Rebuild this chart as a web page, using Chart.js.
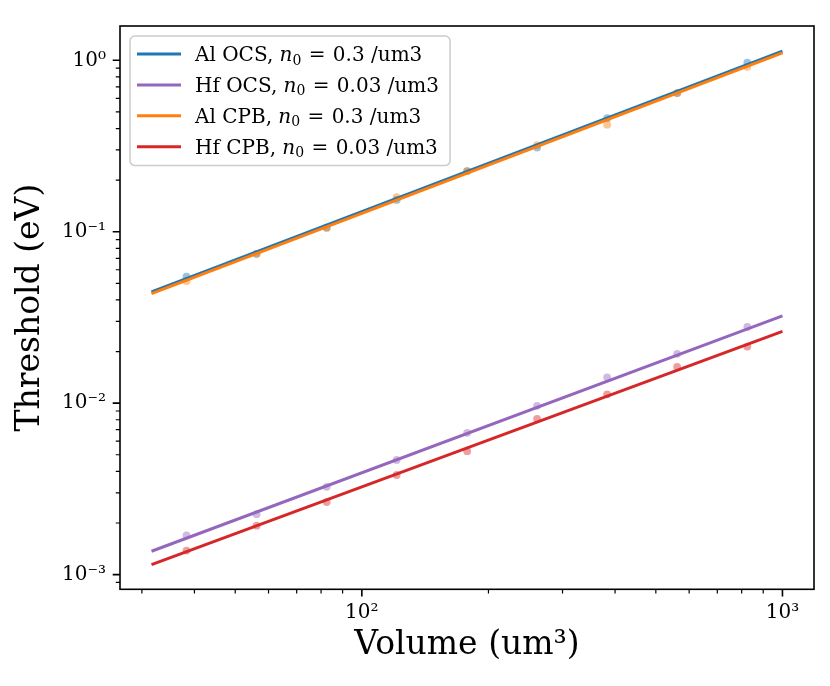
<!DOCTYPE html>
<html>
<head>
<meta charset="utf-8">
<script src="https://cdn.jsdelivr.net/npm/chart.js@4.4.0/dist/chart.umd.min.js"></script>
<style>
  body { margin: 0; background: #fff; }
  #wrap { width: 830px; height: 686px; }
</style>
</head>
<body>
<div id="wrap"><canvas id="chart" width="830" height="686"></canvas></div>
<script>
var volumes = [38.3, 56.2, 82.5, 121, 178, 261, 383, 562, 825];
var alOcs = [0.0547, 0.0743, 0.1056, 0.1533, 0.226, 0.310, 0.460, 0.644, 0.969];
var hfOcs = [0.00169, 0.00225, 0.00325, 0.00466, 0.00671, 0.00965, 0.01414, 0.0194, 0.02783];
var alCpb = [0.0516, 0.0743, 0.1056, 0.1589, 0.226, 0.320, 0.421, 0.644, 0.916];
var hfCpb = [0.00138, 0.00193, 0.00265, 0.00381, 0.00525, 0.00810, 0.01126, 0.01628, 0.02138];

// fitted power laws, evaluated at the ends of the fit range
var fitVolumes = [31.62, 1000];
var alOcsFit = [0.0445, 1.13];
var hfOcsFit = [0.001368, 0.0323];
var alCpbFit = [0.0435, 1.105];
var hfCpbFit = [0.001143, 0.02625];

var seriesNames = ['Al OCS', 'Hf OCS', 'Al CPB', 'Hf CPB'];
var densities = ['0.3', '0.03', '0.3', '0.03'];
var colors = ['#1f77b4', '#9467bd', '#ff7f0e', '#d62728'];

var xTickValues = [100, 1000];
var xTickLabels = ['10\u00b2', '10\u00b3'];
var yTickValues = [0.001, 0.01, 0.1, 1];
var yTickLabels = ['10\u207b\u00b3', '10\u207b\u00b2', '10\u207b\u00b9', '10\u2070'];

var SERIF = '"DejaVu Serif", "Liberation Serif", serif';

function rgba(hex, a) {
    var n = parseInt(hex.slice(1), 16);
    return 'rgba(' + (n >> 16) + ',' + ((n >> 8) & 255) + ',' + (n & 255) + ',' + a + ')';
}

function toPoints(xs, ys) {
    var pts = [];
    for (var i = 0; i < xs.length; i++) pts.push({ x: xs[i], y: ys[i] });
    return pts;
}

var measured = [alOcs, hfOcs, alCpb, hfCpb];
var fits = [alOcsFit, hfOcsFit, alCpbFit, hfCpbFit];

var datasets = [];
for (var k = 0; k < 4; k++) {
    datasets.push({
        type: 'line',
        label: seriesNames[k],
        data: toPoints(fitVolumes, fits[k]),
        borderColor: colors[k],
        borderWidth: 3,
        pointRadius: 0,
        fill: false,
        order: 4 - k
    });
}
for (var k = 0; k < 4; k++) {
    datasets.push({
        type: 'scatter',
        label: seriesNames[k] + ' data',
        data: toPoints(volumes, measured[k]),
        backgroundColor: rgba(colors[k], 0.45),
        borderWidth: 0,
        pointRadius: 3.9,
        order: 10 - k
    });
}

function minorValues(scale, loExp, hiExp, majors) {
    var out = [];
    for (var e = loExp; e <= hiExp; e++) {
        for (var m = 2; m <= 9; m++) {
            var v = m * Math.pow(10, e);
            if (v > scale.min && v < scale.max && majors.indexOf(v) < 0) out.push(v);
        }
    }
    return out;
}

function drawLabel(ctx, i, x, baseline, fs, draw) {
    var parts = [
        { t: seriesNames[i] + ', ', f: fs + 'px ' + SERIF, dy: 0 },
        { t: 'n', f: 'italic ' + fs + 'px ' + SERIF, dy: 0 },
        { t: '0', f: Math.round(fs * 0.7) + 'px ' + SERIF, dy: 3.5 },
        { t: ' = ', f: fs + 'px ' + SERIF, dy: 0, extra: 2 },
        { t: densities[i] + ' /um3', f: fs + 'px ' + SERIF, dy: 0 }
    ];
    var cx = x;
    ctx.textBaseline = 'alphabetic';
    ctx.textAlign = 'left';
    ctx.fillStyle = '#000';
    for (var p = 0; p < parts.length; p++) {
        ctx.font = parts[p].f;
        if (parts[p].extra) cx += parts[p].extra / 2;
        if (draw) ctx.fillText(parts[p].t, cx, baseline + parts[p].dy);
        cx += ctx.measureText(parts[p].t).width;
        if (parts[p].extra) cx += parts[p].extra / 2;
    }
    return cx - x;
}

// spines, outward ticks and the legend box
var framePlugin = {
    id: 'framePlugin',
    afterDraw: function(chart) {
        var ctx = chart.ctx;
        var a = chart.chartArea;
        var xs = chart.scales.x;
        var ys = chart.scales.y;
        ctx.save();
        ctx.strokeStyle = '#000';

        ctx.lineWidth = 1.2;
        ctx.beginPath();
        minorValues(xs, 1, 3, xTickValues).forEach(function(v) {
            var px = xs.getPixelForValue(v);
            ctx.moveTo(px, a.bottom); ctx.lineTo(px, a.bottom + 4.2);
        });
        minorValues(ys, -4, 0, yTickValues).forEach(function(v) {
            var py = ys.getPixelForValue(v);
            ctx.moveTo(a.left, py); ctx.lineTo(a.left - 4.2, py);
        });
        ctx.stroke();

        ctx.lineWidth = 1.6;
        ctx.beginPath();
        xTickValues.forEach(function(v) {
            var px = xs.getPixelForValue(v);
            ctx.moveTo(px, a.bottom); ctx.lineTo(px, a.bottom + 7.3);
        });
        yTickValues.forEach(function(v) {
            var py = ys.getPixelForValue(v);
            ctx.moveTo(a.left, py); ctx.lineTo(a.left - 7.3, py);
        });
        ctx.stroke();
        ctx.strokeRect(a.left, a.top, a.right - a.left, a.bottom - a.top);

        // legend
        var fs = 20;
        var bx = a.left + 10, by = a.top + 10;
        var rowH = 30.9;
        var textX = bx + 65;
        var widths = [];
        for (var i = 0; i < 4; i++) widths.push(drawLabel(ctx, i, 0, 0, fs, false));
        var bw = 65 + Math.max.apply(null, widths) + 11;
        var bh = rowH * 4 + 6;
        ctx.beginPath();
        ctx.roundRect(bx, by, bw, bh, 5);
        ctx.fillStyle = 'rgba(255,255,255,0.8)';
        ctx.fill();
        ctx.lineWidth = 1.5;
        ctx.strokeStyle = '#cccccc';
        ctx.stroke();
        for (var i = 0; i < 4; i++) {
            var cy = by + 18 + i * rowH;
            ctx.beginPath();
            ctx.strokeStyle = colors[i];
            ctx.lineWidth = 3;
            ctx.moveTo(bx + 7, cy); ctx.lineTo(bx + 51, cy);
            ctx.stroke();
            drawLabel(ctx, i, textX, cy + 7, fs, true);
        }
        ctx.restore();
    }
};

new Chart(document.getElementById('chart'), {
    data: { datasets: datasets },
    options: {
        responsive: false,
        animation: false,
        devicePixelRatio: 1,
        layout: { padding: { top: 14.3, right: 16, left: 0, bottom: 0 } },
        plugins: { legend: { display: false }, tooltip: { enabled: false } },
        scales: {
            x: {
                type: 'logarithmic',
                min: 26.61,
                max: 1188.5,
                grid: { display: false, drawTicks: false },
                border: { display: false },
                afterBuildTicks: function(s) {
                    s.ticks = xTickValues.map(function(v) { return { value: v }; });
                },
                afterFit: function(s) { s.height = 96.7; },
                ticks: {
                    autoSkip: false,
                    maxRotation: 0,
                    padding: 11,
                    color: '#000',
                    font: { family: SERIF, size: 20 },
                    callback: function(v, idx) { return xTickLabels[idx]; }
                },
                title: {
                    display: true,
                    text: 'Volume (um\u00b3)',
                    color: '#000',
                    font: { family: SERIF, size: 33 },
                    padding: { top: 0, bottom: 21 }
                }
            },
            y: {
                type: 'logarithmic',
                min: 0.0008206,
                max: 1.5856,
                grid: { display: false, drawTicks: false },
                border: { display: false },
                afterBuildTicks: function(s) {
                    s.ticks = yTickValues.map(function(v) { return { value: v }; });
                },
                afterFit: function(s) { s.width = 120; },
                ticks: {
                    autoSkip: false,
                    padding: 14,
                    color: '#000',
                    font: { family: SERIF, size: 20 },
                    callback: function(v, idx) { return yTickLabels[idx]; }
                },
                title: {
                    display: true,
                    text: 'Threshold (eV)',
                    color: '#000',
                    font: { family: SERIF, size: 33 },
                    padding: { top: 11, bottom: 0 }
                }
            }
        }
    },
    plugins: [framePlugin]
});
</script>
</body>
</html>
